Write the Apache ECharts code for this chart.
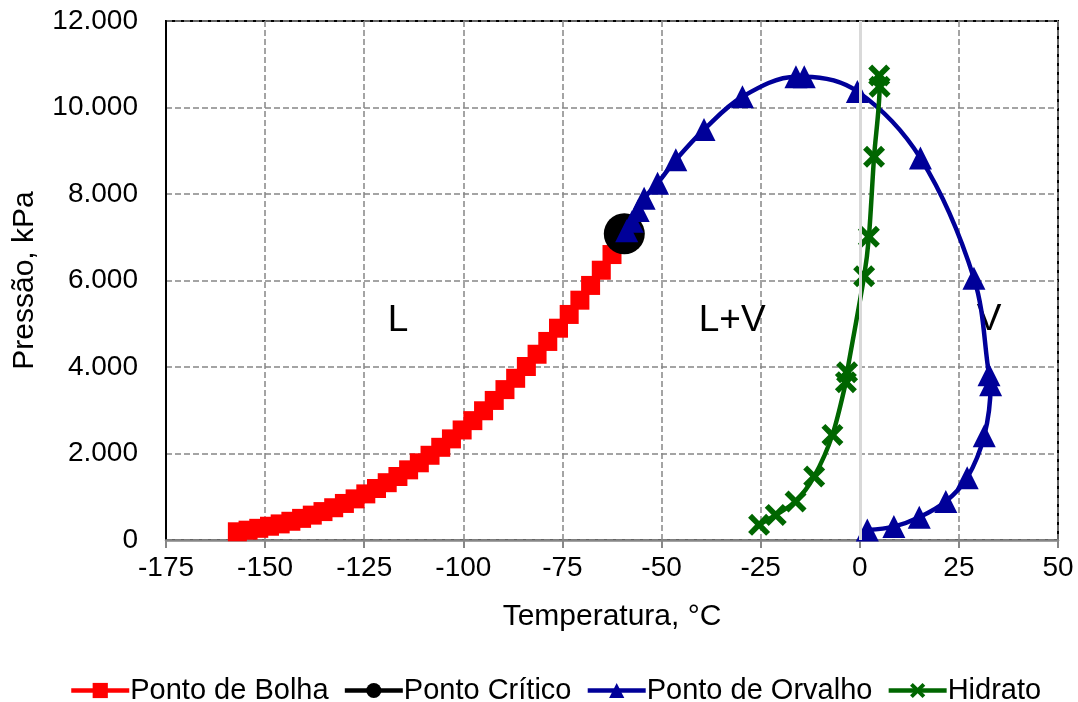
<!DOCTYPE html>
<html>
<head>
<meta charset="utf-8">
<script src="https://cdn.jsdelivr.net/npm/echarts@6/dist/echarts.min.js"></script>
<style>
  html, body { margin: 0; padding: 0; background: #ffffff; }
  #chart { width: 1078px; height: 702px; }
</style>
</head>
<body>
<div id="chart"></div>
<script>
// Envelope de fases: temperatura (°C) x pressão (kPa)
const bolhaT = [-157.0, -154.3, -151.6, -148.9, -146.2, -143.5, -140.8, -138.1, -135.4, -132.7,
  -130.0, -127.3, -124.6, -121.9, -119.2, -116.5, -113.8, -111.1, -108.4, -105.7,
  -103.0, -100.3, -97.6, -94.9, -92.2, -89.5, -86.8, -84.1, -81.4, -78.7,
  -76.0, -73.3, -70.6, -67.9, -65.2, -62.5];
const bolhaP = [190, 227, 270, 318, 372, 433, 500, 575, 657, 746,
  845, 951, 1066, 1191, 1325, 1468, 1622, 1785, 1959, 2143,
  2338, 2544, 2760, 2988, 3227, 3477, 3739, 4011, 4295, 4591,
  4897, 5215, 5545, 5886, 6238, 6600];

const criticoT = [-59.4];
const criticoP = [7080];

const orvalhoT = [-58.8, -57.4, -55.9, -54.4, -51.0, -46.4, -39.3, -29.6, -16.1, -14.0,
  -0.6, 15.3, 28.8, 32.6, 33.0, 31.4, 27.1, 21.7, 15.0, 8.6, 1.9];
const orvalhoP = [7150, 7370, 7620, 7900, 8250, 8790, 9490, 10250, 10710, 10710,
  10370, 8830, 6050, 3820, 3590, 2410, 1440, 890, 525, 310, 230];

const hidratoT = [-25.4, -21.2, -16.2, -11.5, -6.9, -3.5, -3.2, 1.1, 2.3, 3.6, 5.0, 4.9];
const hidratoP = [350, 580, 890, 1470, 2430, 3650, 3880, 6100, 7010, 8860, 10480, 10740];

const regioes = ['L', 'L+V', 'V'];
const regioesT = [-116.5, -32.2, 32.6];
const regioesP = [5060, 5060, 5080];

const xTicks = { min: -175, max: 50, step: 25 };
const yTicks = { min: 0, max: 12000, step: 2000 };

const pares = (xs, ys) => xs.map((x, i) => [x, ys[i]]);

const FONT = 'Liberation Sans, Arial, sans-serif';
// marcador "x" preenchido, braços grossos
const XSYM = 'path://M0,3.6 L3.6,0 L10,6.4 L16.4,0 L20,3.6 L13.6,10 L20,16.4 L16.4,20 L10,13.6 L3.6,20 L0,16.4 L6.4,10 Z';

function milhar(v) {
  return String(v).replace(/\B(?=(\d{3})+(?!\d))/g, '.');
}

const chart = echarts.init(document.getElementById('chart'), null, { renderer: 'canvas' });

chart.setOption({
  animation: false,
  backgroundColor: '#ffffff',
  grid: {
    left: 166, right: 20, top: 21, bottom: 162,
    show: true, borderColor: '#000000', borderWidth: 2, backgroundColor: 'transparent'
  },
  legend: {
    data: ['Ponto de Bolha', 'Ponto Crítico', 'Ponto de Orvalho', 'Hidrato'],
    left: 64, top: 671,
    itemWidth: 58, itemHeight: 19, itemGap: 14,
    lineStyle: { width: 4.5 },
    textStyle: { fontFamily: FONT, fontSize: 29, color: '#000000', padding: [0, 0, 0, -4] }
  },
  xAxis: {
    type: 'value',
    min: xTicks.min, max: xTicks.max, interval: xTicks.step,
    name: 'Temperatura, °C', nameLocation: 'middle', nameGap: 62,
    nameTextStyle: { fontFamily: FONT, fontSize: 30, color: '#000000' },
    axisLine: { onZero: false, lineStyle: { color: '#878787', width: 2.5 } },
    axisTick: { show: true, inside: false, length: 8, lineStyle: { color: '#878787', width: 2 } },
    axisLabel: { margin: 14, fontFamily: FONT, fontSize: 28, color: '#000000' },
    splitLine: { show: true, lineStyle: { color: '#878787', width: 1.5, type: [6, 3] } }
  },
  yAxis: {
    type: 'value',
    min: yTicks.min, max: yTicks.max, interval: yTicks.step,
    name: 'Pressão, kPa', nameLocation: 'middle', nameGap: 126, nameRotate: 90,
    nameTextStyle: { fontFamily: FONT, fontSize: 30, color: '#000000' },
    axisLine: { onZero: false, lineStyle: { color: '#000000', width: 2 } },
    axisTick: { show: false },
    axisLabel: { margin: 28, fontFamily: FONT, fontSize: 28, color: '#000000', formatter: milhar },
    splitLine: { show: true, lineStyle: { color: '#878787', width: 1.5, type: [6, 3] } }
  },
  series: [
    {
      name: 'Ponto de Bolha', type: 'line',
      data: pares(bolhaT, bolhaP),
      symbol: 'rect', symbolSize: 19,
      itemStyle: { color: '#ff0000' },
      lineStyle: { color: '#ff0000', width: 4 },
      markLine: {
        silent: true, symbol: 'none', label: { show: false },
        lineStyle: { color: '#d9d9d9', width: 3, type: 'solid' },
        data: [{ xAxis: 0 }]
      }
    },
    {
      name: 'Ponto Crítico', type: 'line',
      data: pares(criticoT, criticoP),
      symbol: 'circle', symbolSize: 41,
      itemStyle: { color: '#000000' },
      lineStyle: { color: '#000000', width: 4 }
    },
    {
      name: 'Ponto de Orvalho', type: 'line',
      data: pares(orvalhoT, orvalhoP),
      symbol: 'triangle', symbolSize: 23, smooth: 0.35,
      itemStyle: { color: '#000099' },
      lineStyle: { color: '#000099', width: 4.5 }
    },
    {
      name: 'Hidrato', type: 'line',
      data: pares(hidratoT, hidratoP),
      symbol: XSYM, symbolSize: 22, smooth: 0.3,
      itemStyle: { color: '#006600' },
      lineStyle: { color: '#006600', width: 4.5 }
    },
    {
      name: 'regiões', type: 'scatter',
      data: regioes.map((t, i) => ({ name: t, value: [regioesT[i], regioesP[i]] })),
      symbolSize: 0, silent: true,
      itemStyle: { opacity: 1 },
      label: {
        show: true, position: 'inside', formatter: p => p.name,
        fontFamily: FONT, fontSize: 37, color: '#000000',
        textBorderWidth: 0, opacity: 1
      }
    }
  ]
});
</script>
</body>
</html>
